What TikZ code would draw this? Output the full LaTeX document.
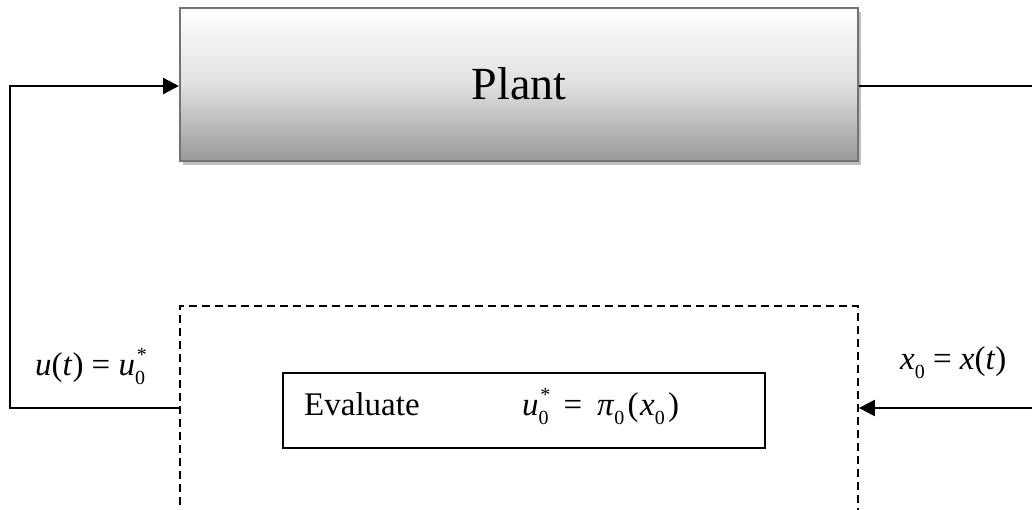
\documentclass[tikz,border=0pt]{standalone}
\usepackage{fontspec}
\setmainfont{Liberation Serif}
\usetikzlibrary{arrows.meta,shadows}
\newcommand{\zsub}{\raisebox{-0.28em}{\fontsize{20}{20}\selectfont 0}}
\newcommand{\zsubsup}{\makebox[0pt][l]{\hspace{0.05em}\raisebox{0.42em}{\fontsize{20}{20}\selectfont *}}\zsub}
\tikzset{
  plantbox/.style={draw=black!55, line width=2pt, top color=white, bottom color=black!40,
    middle color=black!12, drop shadow={shadow xshift=3pt, shadow yshift=-4pt, fill=black!25, opacity=1},
    minimum width=678pt, minimum height=153pt, inner sep=0pt, font=\fontsize{46}{50}\selectfont},
  mpcbox/.style={draw, line width=1.8pt, dash pattern=on 8pt off 5pt, minimum width=678pt, minimum height=260pt, inner sep=0pt},
  evalbox/.style={draw, line width=2.2pt, minimum width=482pt, minimum height=75pt, inner sep=0pt},
  txt/.style={inner sep=0pt, font=\fontsize{33}{36}\selectfont},
  conn/.style={line width=2.3pt},
  arr/.style={conn, -{Triangle[length=16pt,width=16pt]}}
}
\begin{document}
\begin{tikzpicture}[x=1pt,y=-1pt]
\useasboundingbox (0,0) rectangle (1032,509);
\clip (0,0) rectangle (1032,509);
\node[plantbox] (plant) at (519,84) {Plant};
\node[mpcbox] (mpc) at (519,436) {};
\node[evalbox] (eval) at (524,410.5) {};
\node[txt, anchor=base west] (evtxt) at (304,415) {Evaluate};
\node[txt, anchor=base west] (eq) at (522,415) {\textit{u}\zsubsup\hspace{0.2em} = \hspace{0.2em}\textit{π}\zsub\hspace{0.1em}(\hspace{0.05em}\textit{x}\zsub\hspace{0.1em})};
\coordinate (L1) at (10,86);
\coordinate (L2) at (10,408);
\coordinate (R1) at (1032,86);
\coordinate (R2) at (1032,408);
\draw[arr] (mpc.west |- L2) -- (L2) -- (L1) -- (plant.west |- L1);
\draw[conn] (plant.east |- R1) -- (R1);
\draw[arr] (R2) -- (mpc.east |- R2);
\node[txt, anchor=base west] (ulab) at (35,375) {\textit{u}(\textit{t}) = \textit{u}\zsubsup};
\node[txt, anchor=base west] (xlab) at (900,369) {\textit{x}\zsub\ = \textit{x}(\textit{t})};
\end{tikzpicture}
\end{document}
